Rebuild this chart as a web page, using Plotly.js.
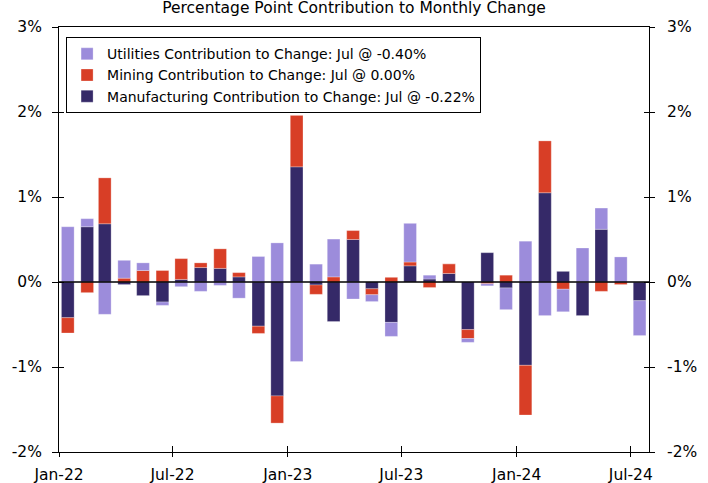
<!DOCTYPE html>
<html>
<head>
<meta charset="utf-8">
<script src="https://cdn.plot.ly/plotly-3.0.1.min.js"></script>
<style>html,body{margin:0;padding:0;background:#fff;}#chart{width:708px;height:483px;}</style>
</head>
<body>
<div id="chart"></div>
<script>
const months = ['2022-01-15','2022-02-15','2022-03-15','2022-04-15','2022-05-15','2022-06-15','2022-07-15','2022-08-15','2022-09-15','2022-10-15','2022-11-15','2022-12-15',
  '2023-01-15','2023-02-15','2023-03-15','2023-04-15','2023-05-15','2023-06-15','2023-07-15','2023-08-15','2023-09-15','2023-10-15','2023-11-15','2023-12-15',
  '2024-01-15','2024-02-15','2024-03-15','2024-04-15','2024-05-15','2024-06-15','2024-07-15'];

const manufacturing = [-0.42,0.65,0.685,-0.03,-0.16,-0.235,0.03,0.17,0.16,0.06,-0.52,-1.34,
  1.355,-0.035,-0.465,0.50,-0.08,-0.475,0.19,0.035,0.10,-0.56,0.345,-0.07,
  -0.98,1.05,0.125,-0.395,0.62,0.0,-0.22];

const mining = [-0.18,-0.125,0.54,0.045,0.135,0.135,0.245,0.055,0.23,0.05,-0.085,-0.32,
  0.605,-0.11,0.06,0.105,-0.07,0.055,0.045,-0.065,0.115,-0.105,-0.02,0.08,
  -0.585,0.61,-0.085,0.0,-0.11,-0.03,0.0];

const utilities = [0.65,0.095,-0.38,0.21,0.09,-0.04,-0.055,-0.11,-0.04,-0.19,0.30,0.46,
  -0.935,0.21,0.445,-0.20,-0.08,-0.165,0.455,0.045,0.0,-0.045,-0.025,-0.255,
  0.48,-0.395,-0.265,0.40,0.25,0.295,-0.41];

const seriesNames = ['Manufacturing Contribution to Change: Jul @ -0.22%',
  'Mining Contribution to Change: Jul @ 0.00%',
  'Utilities Contribution to Change: Jul @ -0.40%'];

const xTickVals = ['2022-01-01','2022-07-01','2023-01-01','2023-07-01','2024-01-01','2024-07-01'];
const xTickText = ['Jan-22','Jul-22','Jan-23','Jul-23','Jan-24','Jul-24'];
const yTickVals = [-2,-1,0,1,2,3];
const yTickText = ['-2%','-1%','0%','1%','2%','3%'];

const colors = {manu:'#352968', mining:'#d83e26', util:'#9c8cdb'};
const barWidth = 1.75e9;
const font = {family:'DejaVu Sans, Verdana, sans-serif', size:15.5, color:'#000'};
const legendFont = {family:'DejaVu Sans, Verdana, sans-serif', size:14, color:'#000'};
const xRange = ['2022-01-01','2024-07-30'];
const yRange = [-2,3];

function bar(y, name, color){
  return {type:'bar', x:months, y:y, name:name, width:barWidth,
    marker:{color:color, line:{width:0.6, color:'rgba(255,255,255,0.45)'}}, hoverinfo:'x+y'};
}
function ghost(xa, ya){
  return {type:'scatter', mode:'markers', x:[months[0]], y:[0], xaxis:xa, yaxis:ya,
    marker:{opacity:0}, showlegend:false, hoverinfo:'skip'};
}

const data = [
  bar(manufacturing, seriesNames[0], colors.manu),
  bar(mining, seriesNames[1], colors.mining),
  bar(utilities, seriesNames[2], colors.util),
  ghost('x2','y'), ghost('x','y2'), ghost('x','y3')
];

const layout = {
  width:708, height:483,
  margin:{l:59, r:59, t:27, b:31, pad:0},
  paper_bgcolor:'#fff', plot_bgcolor:'#fff',
  font:font,
  barmode:'relative', bargap:0,
  showlegend:true,
  title:{text:'Percentage Point Contribution to Monthly Change', font:font,
    x:0.5, xanchor:'center', xref:'paper', y:0.984, yref:'container', yanchor:'middle'},
  legend:{x:0.012, xanchor:'left', y:0.976, yanchor:'top', traceorder:'reversed',
    bgcolor:'#fff', bordercolor:'#000', borderwidth:1, font:legendFont, itemwidth:30,
    tracegroupgap:0},
  xaxis:{type:'date', range:xRange, tickvals:xTickVals, ticktext:xTickText,
    ticks:'outside', ticklen:4, tickwidth:1, tickcolor:'#000', ticklabelstandoff:4,
    showline:true, linecolor:'#000', linewidth:1, mirror:true,
    showgrid:false, zeroline:false, tickfont:font, fixedrange:true},
  xaxis2:{type:'date', range:xRange, overlaying:'x', anchor:'y', side:'bottom',
    tickvals:xTickVals, ticks:'inside', ticklen:6, tickwidth:1, tickcolor:'#000',
    showticklabels:false, showline:false, showgrid:false, zeroline:false},
  yaxis:{range:yRange, tickvals:yTickVals, ticktext:yTickText,
    ticks:'outside', ticklen:6, tickwidth:1, tickcolor:'#000', ticklabelstandoff:7,
    showline:true, linecolor:'#000', linewidth:1,
    showgrid:false, zeroline:false, tickfont:font, fixedrange:true},
  yaxis2:{range:yRange, overlaying:'y', side:'right', anchor:'x',
    tickvals:yTickVals, ticktext:yTickText,
    ticks:'outside', ticklen:5, tickwidth:1, tickcolor:'#000', ticklabelstandoff:9,
    showline:true, linecolor:'#000', linewidth:1,
    showgrid:false, zeroline:false, tickfont:font},
  yaxis3:{range:yRange, overlaying:'y', side:'left', anchor:'x',
    tickvals:yTickVals, ticks:'inside', ticklen:5, tickwidth:1, tickcolor:'#000',
    mirror:'ticks', showticklabels:false, showline:false, showgrid:false, zeroline:false},
  shapes:[{type:'line', xref:'paper', x0:0, x1:1, yref:'y', y0:0, y1:0,
    line:{color:'#000', width:1.6}, layer:'above'}]
};

Plotly.newPlot('chart', data, layout, {displayModeBar:false, staticPlot:true});
</script>
</body>
</html>
